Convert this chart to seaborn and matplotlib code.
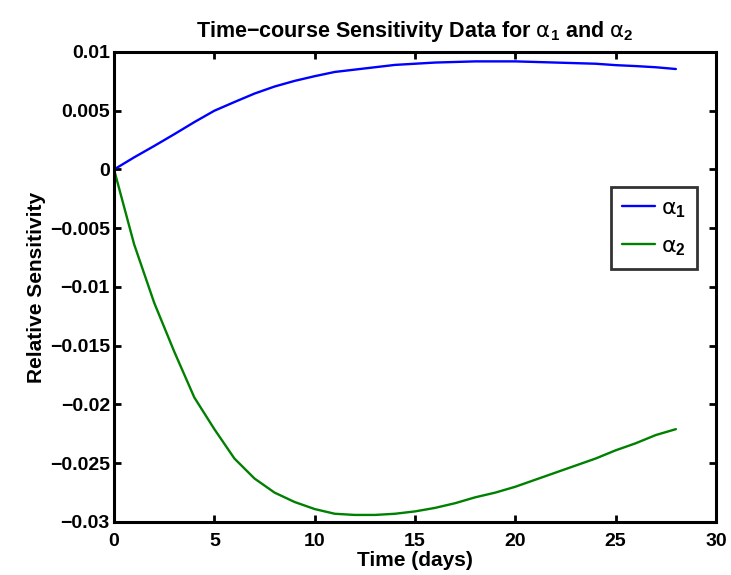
import matplotlib
matplotlib.use("Agg")
import matplotlib.pyplot as plt
import seaborn as sns
import pandas as pd

# ---- data ----
days = list(range(0, 29))
alpha1 = [0.0, 0.00103, 0.0020, 0.0030, 0.00403, 0.0050, 0.00574, 0.00646, 0.00706,
          0.00754, 0.00794, 0.0083, 0.0085, 0.0087, 0.0089, 0.0090, 0.0091, 0.00915,
          0.0092, 0.0092, 0.0092, 0.00915, 0.0091, 0.00905, 0.0090, 0.00888, 0.0088,
          0.0087, 0.00855]
alpha2 = [0.0, -0.00636, -0.01134, -0.0155, -0.0194, -0.0221, -0.0246, -0.0263, -0.0275,
          -0.0283, -0.0289, -0.0293, -0.0294, -0.0294, -0.0293, -0.0291, -0.0288, -0.0284,
          -0.0279, -0.0275, -0.0270, -0.0264, -0.0258, -0.0252, -0.0246, -0.0239, -0.0233,
          -0.0226, -0.0221]
series_names = [r"$\alpha_1$", r"$\alpha_2$"]
series_colors = ["#0000ff", "#008000"]
xticks = [0, 5, 10, 15, 20, 25, 30]
yticks = [0.01, 0.005, 0, -0.005, -0.01, -0.015, -0.02, -0.025, -0.03]
ytick_labels = ["0.01", "0.005", "0", "\u22120.005", "\u22120.01", "\u22120.015",
                "\u22120.02", "\u22120.025", "\u22120.03"]
title = r"Time$-$course Sensitivity Data for $\alpha_1$ and $\alpha_2$"
xlabel = "Time (days)"
ylabel = "Relative Sensitivity"

df = pd.DataFrame({
    "Time": days * 2,
    "Value": alpha1 + alpha2,
    "Series": [series_names[0]] * len(days) + [series_names[1]] * len(days),
})

sns.set_style("white")
plt.rcParams["font.family"] = ["Liberation Sans", "DejaVu Sans"]
plt.rcParams["font.weight"] = "bold"
plt.rcParams["text.color"] = "black"
plt.rcParams["axes.labelcolor"] = "black"
plt.rcParams["xtick.color"] = "black"
plt.rcParams["ytick.color"] = "black"
plt.rcParams["mathtext.fontset"] = "custom"
plt.rcParams["mathtext.rm"] = "Liberation Sans:bold"
plt.rcParams["mathtext.it"] = "DejaVu Sans:style=normal:weight=normal"
plt.rcParams["mathtext.bf"] = "Liberation Sans:bold"

fig = plt.figure(figsize=(7.31, 5.75), dpi=100)
ax = fig.add_axes([0.156, 0.0922, 0.8235, 0.8174])

sns.lineplot(data=df, x="Time", y="Value", hue="Series", palette=series_colors,
             linewidth=1.7, ax=ax, legend=True)

ax.set_xlim(0, 30)
ax.set_ylim(-0.03, 0.01)
ax.set_xticks(xticks)
ax.set_xticklabels([str(t) for t in xticks], fontsize=14, fontweight="bold")
ax.set_yticks(yticks)
ax.set_yticklabels(ytick_labels, fontsize=14, fontweight="bold")
ax.tick_params(direction="in", length=5, width=2, top=True, right=True,
               bottom=True, left=True, pad=3, colors="black")
ax.tick_params(axis="x", pad=8)
for s in ax.spines.values():
    s.set_linewidth(2.2)
    s.set_color("black")

ax.set_xlabel(xlabel, fontsize=15, fontweight="bold", labelpad=1, color="black")
ax.set_ylabel(ylabel, fontsize=15, fontweight="bold", labelpad=3, color="black")
ax.set_title(title, fontsize=15.5, fontweight="bold", pad=11, color="black")

leg = ax.legend(loc="upper right", bbox_to_anchor=(0.968, 0.713), fontsize=16,
                frameon=True, fancybox=False, handlelength=1.5, handletextpad=0.25,
                borderpad=0.5, labelspacing=0.75, borderaxespad=0)
leg.get_frame().set_edgecolor("black")
leg.get_frame().set_linewidth(2.0)
for line in leg.get_lines():
    line.set_linewidth(1.7)

fig.savefig("out.png", dpi=100)
